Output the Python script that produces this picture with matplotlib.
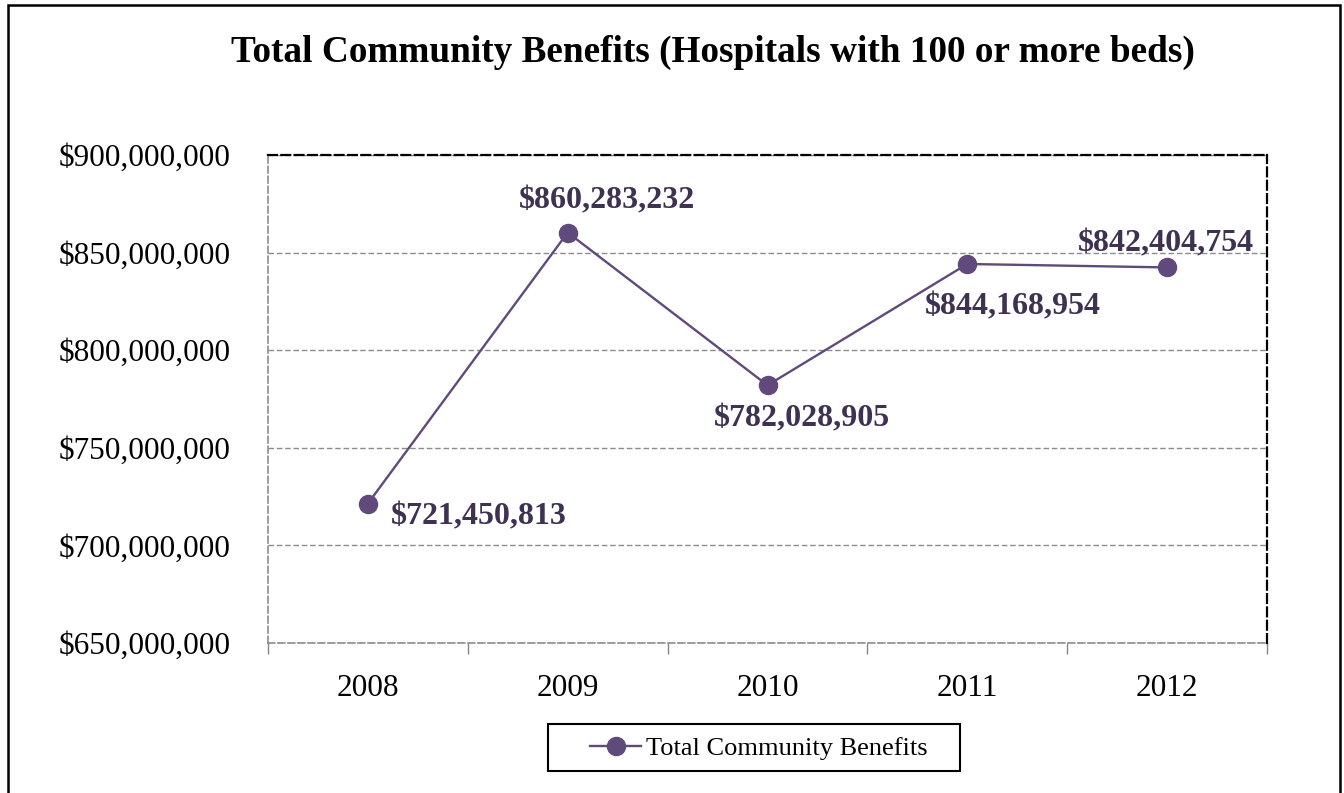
import matplotlib
matplotlib.use("Agg")
import matplotlib.pyplot as plt
from matplotlib.patches import Rectangle
from matplotlib.ticker import FuncFormatter, FixedLocator, MultipleLocator

years = ["2008", "2009", "2010", "2011", "2012"]
benefits = [721450813, 860283232, 782028905, 844168954, 842404754]
# label placement relative to each point, in pixels (dx, dy), with alignment
label_offsets = [(23, -13, "left"), (39, 32, "center"), (34, -34, "center"),
                 (46, -43, "center"), (-1, 24, "center")]

line_color = "#604A7B"
label_color = "#3F3151"
serif = ["Liberation Serif", "DejaVu Serif"]

plt.rcParams["font.family"] = serif

W, H = 1344, 793
fig = plt.figure(figsize=(W / 100, H / 100), dpi=100)
fig.patch.set_facecolor("white")

# outer chart frame
fig.patches.append(Rectangle((8 / W, -0.05), (1340 - 8) / W, 1.05 - 5 / H,
                             transform=fig.transFigure, fill=False,
                             edgecolor="black", linewidth=1.8))

left, right, top, bottom = 268, 1267, 155, 643
ax = fig.add_axes([left / W, 1 - bottom / H, (right - left) / W, (bottom - top) / H])

x = list(range(len(years)))
ax.plot(x, benefits, color=line_color, linewidth=1.7, marker="o",
        markersize=13, markerfacecolor=line_color, markeredgecolor=line_color,
        label="Total Community Benefits", zorder=3, clip_on=False)

ax.set_xlim(-0.5, len(years) - 0.5)
ax.set_ylim(650_000_000, 900_000_000)
ax.yaxis.set_major_locator(MultipleLocator(50_000_000))
ax.yaxis.set_major_formatter(FuncFormatter(lambda v, p: f"${v:,.0f}"))
ax.set_xticks(x)
ax.set_xticklabels(years)
ax.xaxis.set_minor_locator(FixedLocator([i - 0.5 for i in range(len(years) + 1)]))
ax.tick_params(axis="x", which="major", length=0, pad=22, labelsize=22.5)
ax.tick_params(axis="x", which="minor", length=8, color="#888888", width=1)
ax.tick_params(axis="y", length=0, pad=27, labelsize=22.5)

ax.grid(axis="y", color="#8C8C8C", linestyle=(0, (4, 2)), linewidth=1)
ax.set_axisbelow(True)

for side in ["left", "bottom"]:
    ax.spines[side].set_color("#8C8C8C")
    ax.spines[side].set_linestyle((0, (4, 2)))
    ax.spines[side].set_linewidth(1.2)
for side in ["top", "right"]:
    ax.spines[side].set_color("black")
    ax.spines[side].set_linestyle((0, (4, 2)))
    ax.spines[side].set_linewidth(1.6)

for xi, v, (dx, dy, ha) in zip(x, benefits, label_offsets):
    ax.annotate(f"${v:,.0f}", (xi, v), xytext=(dx, dy), textcoords="offset pixels",
                ha=ha, va="center", fontsize=23, fontweight="bold",
                color=label_color, zorder=4)

fig.text(713 / W, 1 - 52 / H, "Total Community Benefits (Hospitals with 100 or more beds)",
         ha="center", va="center", fontsize=26.8, fontweight="bold", color="black")

# legend content plus a separate wider box around it
fig.legend(loc="center", bbox_to_anchor=(759 / W, 1 - 748 / H), fontsize=19,
           frameon=False, handlelength=1.9, borderpad=0.0, handletextpad=0.2)
fig.patches.append(Rectangle((548 / W, 1 - 771 / H), (960 - 548) / W, (771 - 724) / H,
                             transform=fig.transFigure, fill=False,
                             edgecolor="black", linewidth=1.5))

fig.savefig("out.png", dpi=100, facecolor="white")
